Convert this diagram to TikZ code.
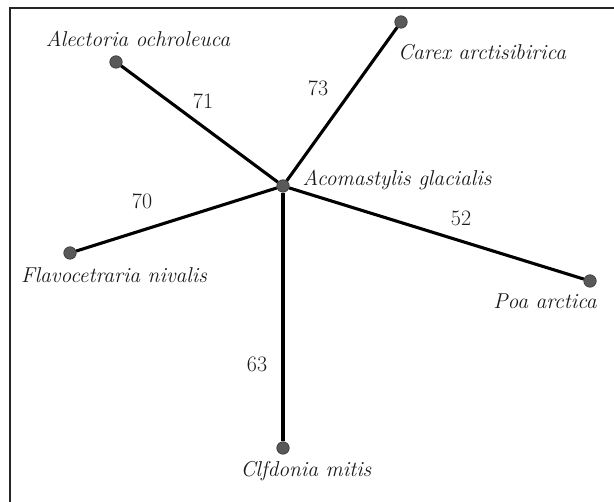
\documentclass[tikz,border=0pt]{standalone}
\usepackage{fontspec}
\begin{document}
\begin{tikzpicture}[x=1pt,y=-1pt,
  dot/.style={circle,fill=black!65,draw=black!80,line width=0.6pt,inner sep=0pt,minimum size=12.5pt},
  edge/.style={line width=3.1pt,black},
  lbl/.style={font=\fontsize{21.5}{24}\selectfont\itshape,inner sep=0pt,text=black!90},
  num/.style={font=\fontsize{22}{24}\selectfont,inner sep=0pt,text=black!90}]
\useasboundingbox (0,0) rectangle (614,502);
\draw[line width=2.2pt,black!85] (10,502) -- (10,8) -- (614,8);
\node[dot] (c) at (283,186) {};
\node[dot] (al) at (116,62) {};
\node[dot] (ca) at (401,22) {};
\node[dot] (fl) at (70,253) {};
\node[dot] (po) at (590,281) {};
\node[dot] (cl) at (283,448) {};
\draw[edge] (c) -- (al);
\draw[edge] (c) -- (ca);
\draw[edge] (c) -- (fl);
\draw[edge] (c) -- (po);
\draw[edge] (c) -- (cl);
\node[lbl] (tal) at (138,39) {Alectoria ochroleuca};
\node[lbl] (tca) at (482,52) {Carex arctisibirica};
\node[lbl] (tc) at (397,180) {Acomastylis glacialis};
\node[lbl] (tfl) at (114,275) {Flavocetraria nivalis};
\node[lbl] (tpo) at (545,301) {Poa arctica};
\node[lbl] (tcl) at (306,471) {Clfdonia mitis};
\node[num] (n71) at (203,101) {71};
\node[num] (n73) at (318,88) {73};
\node[num] (n70) at (142,201) {70};
\node[num] (n52) at (461,218) {52};
\node[num] (n63) at (257,364) {63};
\end{tikzpicture}
\end{document}
